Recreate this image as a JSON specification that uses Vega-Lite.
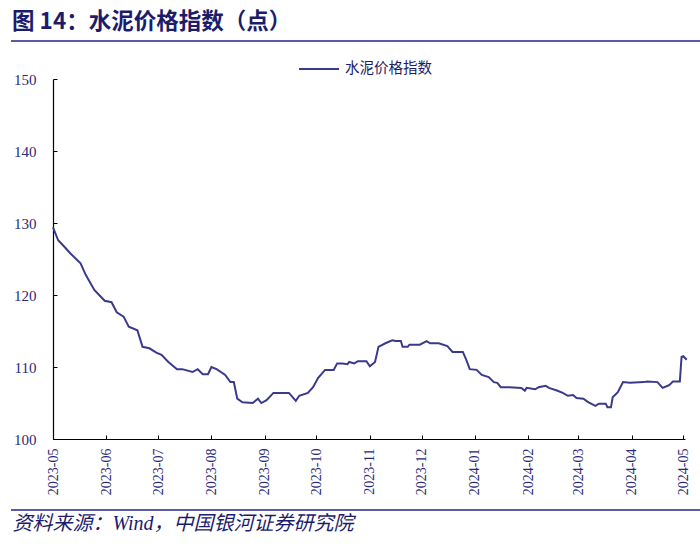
{
  "$schema": "https://vega.github.io/schema/vega-lite/v6.json",
  "width": 632,
  "height": 360,
  "autosize": {"type": "none"},
  "padding": {"left": 53, "top": 79, "right": 15, "bottom": 108},
  "background": "white",
  "config": {"view": {"stroke": null}},
  "title": {
    "text": "图 14：水泥价格指数（点）",
    "anchor": "start",
    "frame": "group",
    "orient": "top",
    "dx": -41,
    "offset": 7,
    "font": "Noto Sans CJK SC",
    "fontSize": 22.5,
    "fontWeight": "bold",
    "color": "#1c1c6c"
  },
  "data": {
    "values": [
      {"date": "2023/05/01", "value": 129.4},
      {"date": "2023/05/04", "value": 127.6},
      {"date": "2023/05/08", "value": 126.6},
      {"date": "2023/05/11", "value": 125.8},
      {"date": "2023/05/17", "value": 124.4},
      {"date": "2023/05/20", "value": 122.8},
      {"date": "2023/05/25", "value": 120.7},
      {"date": "2023/05/31", "value": 119.2},
      {"date": "2023/06/04", "value": 119.0},
      {"date": "2023/06/07", "value": 117.6},
      {"date": "2023/06/11", "value": 117.0},
      {"date": "2023/06/14", "value": 115.6},
      {"date": "2023/06/19", "value": 115.1},
      {"date": "2023/06/22", "value": 112.8},
      {"date": "2023/06/26", "value": 112.6},
      {"date": "2023/06/30", "value": 112.0},
      {"date": "2023/07/03", "value": 111.7},
      {"date": "2023/07/07", "value": 110.7},
      {"date": "2023/07/12", "value": 109.7},
      {"date": "2023/07/15", "value": 109.7},
      {"date": "2023/07/21", "value": 109.3},
      {"date": "2023/07/24", "value": 109.7},
      {"date": "2023/07/27", "value": 109.0},
      {"date": "2023/07/30", "value": 109.0},
      {"date": "2023/08/01", "value": 110.0},
      {"date": "2023/08/04", "value": 109.7},
      {"date": "2023/08/09", "value": 108.9},
      {"date": "2023/08/12", "value": 107.9},
      {"date": "2023/08/14", "value": 107.9},
      {"date": "2023/08/16", "value": 105.6},
      {"date": "2023/08/19", "value": 105.1},
      {"date": "2023/08/25", "value": 105.0},
      {"date": "2023/08/28", "value": 105.6},
      {"date": "2023/08/30", "value": 105.0},
      {"date": "2023/09/02", "value": 105.4},
      {"date": "2023/09/06", "value": 106.4},
      {"date": "2023/09/15", "value": 106.4},
      {"date": "2023/09/19", "value": 105.3},
      {"date": "2023/09/21", "value": 106.0},
      {"date": "2023/09/26", "value": 106.4},
      {"date": "2023/09/29", "value": 107.2},
      {"date": "2023/10/02", "value": 108.5},
      {"date": "2023/10/06", "value": 109.6},
      {"date": "2023/10/11", "value": 109.6},
      {"date": "2023/10/13", "value": 110.5},
      {"date": "2023/10/16", "value": 110.5},
      {"date": "2023/10/19", "value": 110.4},
      {"date": "2023/10/20", "value": 110.7},
      {"date": "2023/10/23", "value": 110.5},
      {"date": "2023/10/25", "value": 110.8},
      {"date": "2023/10/30", "value": 110.8},
      {"date": "2023/11/01", "value": 110.1},
      {"date": "2023/11/04", "value": 110.7},
      {"date": "2023/11/06", "value": 112.8},
      {"date": "2023/11/10", "value": 113.3},
      {"date": "2023/11/14", "value": 113.7},
      {"date": "2023/11/16", "value": 113.6},
      {"date": "2023/11/19", "value": 113.6},
      {"date": "2023/11/20", "value": 112.8},
      {"date": "2023/11/23", "value": 112.8},
      {"date": "2023/11/24", "value": 113.1},
      {"date": "2023/11/30", "value": 113.1},
      {"date": "2023/12/04", "value": 113.6},
      {"date": "2023/12/06", "value": 113.3},
      {"date": "2023/12/11", "value": 113.3},
      {"date": "2023/12/16", "value": 112.9},
      {"date": "2023/12/19", "value": 112.1},
      {"date": "2023/12/25", "value": 112.1},
      {"date": "2023/12/27", "value": 111.0},
      {"date": "2023/12/29", "value": 109.7},
      {"date": "2024/01/02", "value": 109.6},
      {"date": "2024/01/05", "value": 108.9},
      {"date": "2024/01/09", "value": 108.6},
      {"date": "2024/01/12", "value": 107.9},
      {"date": "2024/01/14", "value": 107.8},
      {"date": "2024/01/16", "value": 107.2},
      {"date": "2024/01/21", "value": 107.2},
      {"date": "2024/01/28", "value": 107.1},
      {"date": "2024/01/30", "value": 106.7},
      {"date": "2024/01/31", "value": 107.1},
      {"date": "2024/02/05", "value": 106.9},
      {"date": "2024/02/07", "value": 107.2},
      {"date": "2024/02/11", "value": 107.4},
      {"date": "2024/02/13", "value": 107.1},
      {"date": "2024/02/18", "value": 106.7},
      {"date": "2024/02/21", "value": 106.4},
      {"date": "2024/02/24", "value": 106.0},
      {"date": "2024/02/27", "value": 106.1},
      {"date": "2024/02/29", "value": 105.7},
      {"date": "2024/03/04", "value": 105.6},
      {"date": "2024/03/07", "value": 105.1},
      {"date": "2024/03/11", "value": 104.6},
      {"date": "2024/03/13", "value": 104.9},
      {"date": "2024/03/17", "value": 104.9},
      {"date": "2024/03/18", "value": 104.4},
      {"date": "2024/03/20", "value": 104.4},
      {"date": "2024/03/21", "value": 105.8},
      {"date": "2024/03/24", "value": 106.5},
      {"date": "2024/03/27", "value": 107.9},
      {"date": "2024/03/31", "value": 107.8},
      {"date": "2024/04/08", "value": 107.9},
      {"date": "2024/04/10", "value": 108.0},
      {"date": "2024/04/16", "value": 107.9},
      {"date": "2024/04/19", "value": 107.1},
      {"date": "2024/04/22", "value": 107.4},
      {"date": "2024/04/23", "value": 107.5},
      {"date": "2024/04/25", "value": 108.0},
      {"date": "2024/04/29", "value": 108.0},
      {"date": "2024/04/30", "value": 111.4},
      {"date": "2024/05/01", "value": 111.5},
      {"date": "2024/05/03", "value": 111.0}
    ]
  },
  "layer": [
    {
      "mark": {"type": "line", "strokeWidth": 2, "clip": false},
      "encoding": {
        "x": {
          "field": "date",
          "type": "temporal",
          "scale": {"domain": [{"year": 2023, "month": 5, "date": 1}, {"year": 2024, "month": 5, "date": 2}]},
          "axis": {
            "values": [
              {"year": 2023, "month": 5, "date": 1},
              {"year": 2023, "month": 6, "date": 1},
              {"year": 2023, "month": 7, "date": 1},
              {"year": 2023, "month": 8, "date": 1},
              {"year": 2023, "month": 9, "date": 1},
              {"year": 2023, "month": 10, "date": 1},
              {"year": 2023, "month": 11, "date": 1},
              {"year": 2023, "month": 12, "date": 1},
              {"year": 2024, "month": 1, "date": 1},
              {"year": 2024, "month": 2, "date": 1},
              {"year": 2024, "month": 3, "date": 1},
              {"year": 2024, "month": 4, "date": 1},
              {"year": 2024, "month": 5, "date": 1}
            ],
            "format": "%Y-%m",
            "labelAngle": -90,
            "labelFont": "Liberation Serif",
            "labelFontSize": 14,
            "labelColor": "#2a2a78",
            "labelPadding": 13,
            "labelOverlap": false,
            "labelFlush": false,
            "tickSize": -4,
            "tickColor": "#000000",
            "domainColor": "#000000",
            "domainWidth": 1.2,
            "grid": false,
            "title": "资料来源：Wind，中国银河证券研究院",
            "titleFont": "Liberation Serif, Noto Sans CJK SC",
            "titleFontStyle": "italic",
            "titleFontWeight": "normal",
            "titleFontSize": 20,
            "titleColor": "#1c1c6c",
            "titleAnchor": "start",
            "titleAlign": "left",
            "titleBaseline": "middle",
            "titleX": -41,
            "titleY": 84
          }
        },
        "y": {
          "field": "value",
          "type": "quantitative",
          "scale": {"domain": [100, 150], "nice": false, "zero": false},
          "axis": {
            "values": [100, 110, 120, 130, 140, 150],
            "labelFont": "Liberation Serif",
            "labelFontSize": 15,
            "labelColor": "#2a2a78",
            "labelPadding": 21,
            "tickSize": -4,
            "tickColor": "#000000",
            "domainColor": "#000000",
            "domainWidth": 1.2,
            "grid": false,
            "title": null
          }
        },
        "color": {
          "datum": "水泥价格指数",
          "type": "nominal",
          "scale": {"range": ["#3a3a8c"]},
          "legend": {
            "title": null,
            "orient": "none",
            "legendX": 245,
            "legendY": -31,
            "symbolType": "stroke",
            "symbolSize": 1600,
            "symbolStrokeWidth": 2,
            "labelFont": "Noto Sans CJK SC",
            "labelFontSize": 14.5,
            "labelColor": "#1c1c6c",
            "labelOffset": 5
          }
        }
      }
    },
    {
      "mark": {"type": "rule", "color": "#5a5aa8", "strokeWidth": 1.2, "clip": false},
      "encoding": {
        "x": {"datum": {"year": 2023, "month": 4, "date": 7}, "type": "temporal"},
        "x2": {"datum": {"year": 2024, "month": 5, "date": 11}},
        "y": {"datum": 155.28, "type": "quantitative"}
      }
    },
    {
      "mark": {"type": "rule", "color": "#5a5aa8", "strokeWidth": 1.2, "clip": false},
      "encoding": {
        "x": {"datum": {"year": 2023, "month": 4, "date": 7}, "type": "temporal"},
        "x2": {"datum": {"year": 2024, "month": 5, "date": 11}},
        "y": {"datum": 90.14, "type": "quantitative"}
      }
    }
  ]
}
